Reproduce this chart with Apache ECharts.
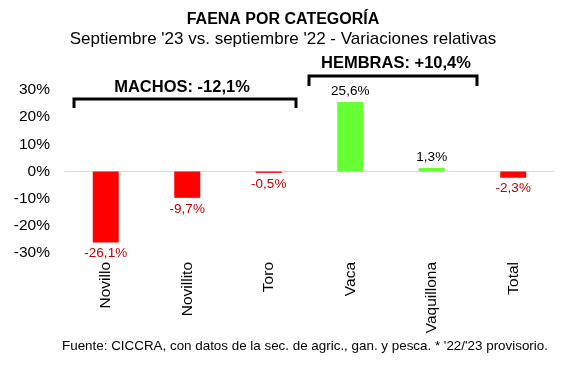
<!DOCTYPE html>
<html>
<head>
<meta charset="utf-8">
<script src="https://cdn.jsdelivr.net/npm/echarts@6/dist/echarts.min.js"></script>
<style>
html,body{margin:0;padding:0;background:#fff;}
#c{width:584px;height:378px;}
</style>
</head>
<body>
<div id="c"></div>
<script>
var categories = ['Novillo', 'Novillito', 'Toro', 'Vaca', 'Vaquillona', 'Total'];
var values = [-26.1, -9.7, -0.5, 25.6, 1.3, -2.3];
var yTicks = [-30, -20, -10, 0, 10, 20, 30];
var groupLabels = ['MACHOS: -12,1%', 'HEMBRAS: +10,4%'];

var FONT = "'Liberation Sans', Arial, sans-serif";
var chart = echarts.init(document.getElementById('c'), null, {renderer: 'canvas'});

var seriesData = values.map(function (v) {
  var neg = v < 0;
  return {
    value: v,
    itemStyle: {color: neg ? '#ff0000' : '#66ff33'},
    label: {
      position: neg ? 'bottom' : 'top',
      color: neg ? '#c00000' : '#000000'
    }
  };
});

function fmt(v) {
  return v.toFixed(1).replace('.', ',') + '%';
}

var option = {
  animation: false,
  backgroundColor: '#ffffff',
  textStyle: {fontFamily: FONT},
  title: [
    {text: 'FAENA POR CATEGORÍA', left: 278, top: 7, textAlign: 'center',
     textStyle: {fontFamily: FONT, fontSize: 16, fontWeight: 'bold', color: '#000'}},
    {text: "Septiembre '23 vs. septiembre '22 - Variaciones relativas", left: 278, top: 26, textAlign: 'center',
     textStyle: {fontFamily: FONT, fontSize: 17, fontWeight: 'normal', color: '#000'}},
    {text: "Fuente: CICCRA, con datos de la sec. de agric., gan. y pesca. * '22/'23 provisorio.", left: 300, top: 335, textAlign: 'center',
     textStyle: {fontFamily: FONT, fontSize: 13.4, fontWeight: 'normal', color: '#000'}}
  ],
  grid: {left: 65, right: 30, top: 90, bottom: 125, containLabel: false},
  xAxis: {
    type: 'category',
    data: categories,
    axisLine: {show: true, lineStyle: {color: '#d9d9d9', width: 1}},
    axisTick: {show: false},
    axisLabel: {rotate: 90, fontSize: 15.5, color: '#000', fontFamily: FONT, margin: 9}
  },
  yAxis: {
    type: 'value',
    min: yTicks[0],
    max: yTicks[yTicks.length - 1],
    interval: 10,
    splitLine: {show: false},
    axisLine: {show: false},
    axisTick: {show: false},
    axisLabel: {formatter: '{value}%', fontSize: 15.5, color: '#000', fontFamily: FONT, margin: 15}
  },
  series: [{
    type: 'bar',
    data: seriesData,
    barWidth: 26,
    label: {
      show: true,
      fontSize: 13.5,
      fontFamily: FONT,
      distance: 4,
      formatter: function (p) { return fmt(p.value); }
    }
  }],
  graphic: [
    {type: 'polyline', shape: {points: [[74, 108], [74, 99], [296, 99], [296, 108]]},
     style: {stroke: '#000', lineWidth: 3, fill: null}},
    {type: 'text', x: 182, y: 87, style: {text: groupLabels[0], font: 'bold 16.5px ' + FONT, fill: '#000', textAlign: 'center', textVerticalAlign: 'middle'}},
    {type: 'polyline', shape: {points: [[309, 86], [309, 76], [477, 76], [477, 86]]},
     style: {stroke: '#000', lineWidth: 3, fill: null}},
    {type: 'text', x: 396, y: 63, style: {text: groupLabels[1], font: 'bold 16.5px ' + FONT, fill: '#000', textAlign: 'center', textVerticalAlign: 'middle'}}
  ]
};
chart.setOption(option);
</script>
</body>
</html>
